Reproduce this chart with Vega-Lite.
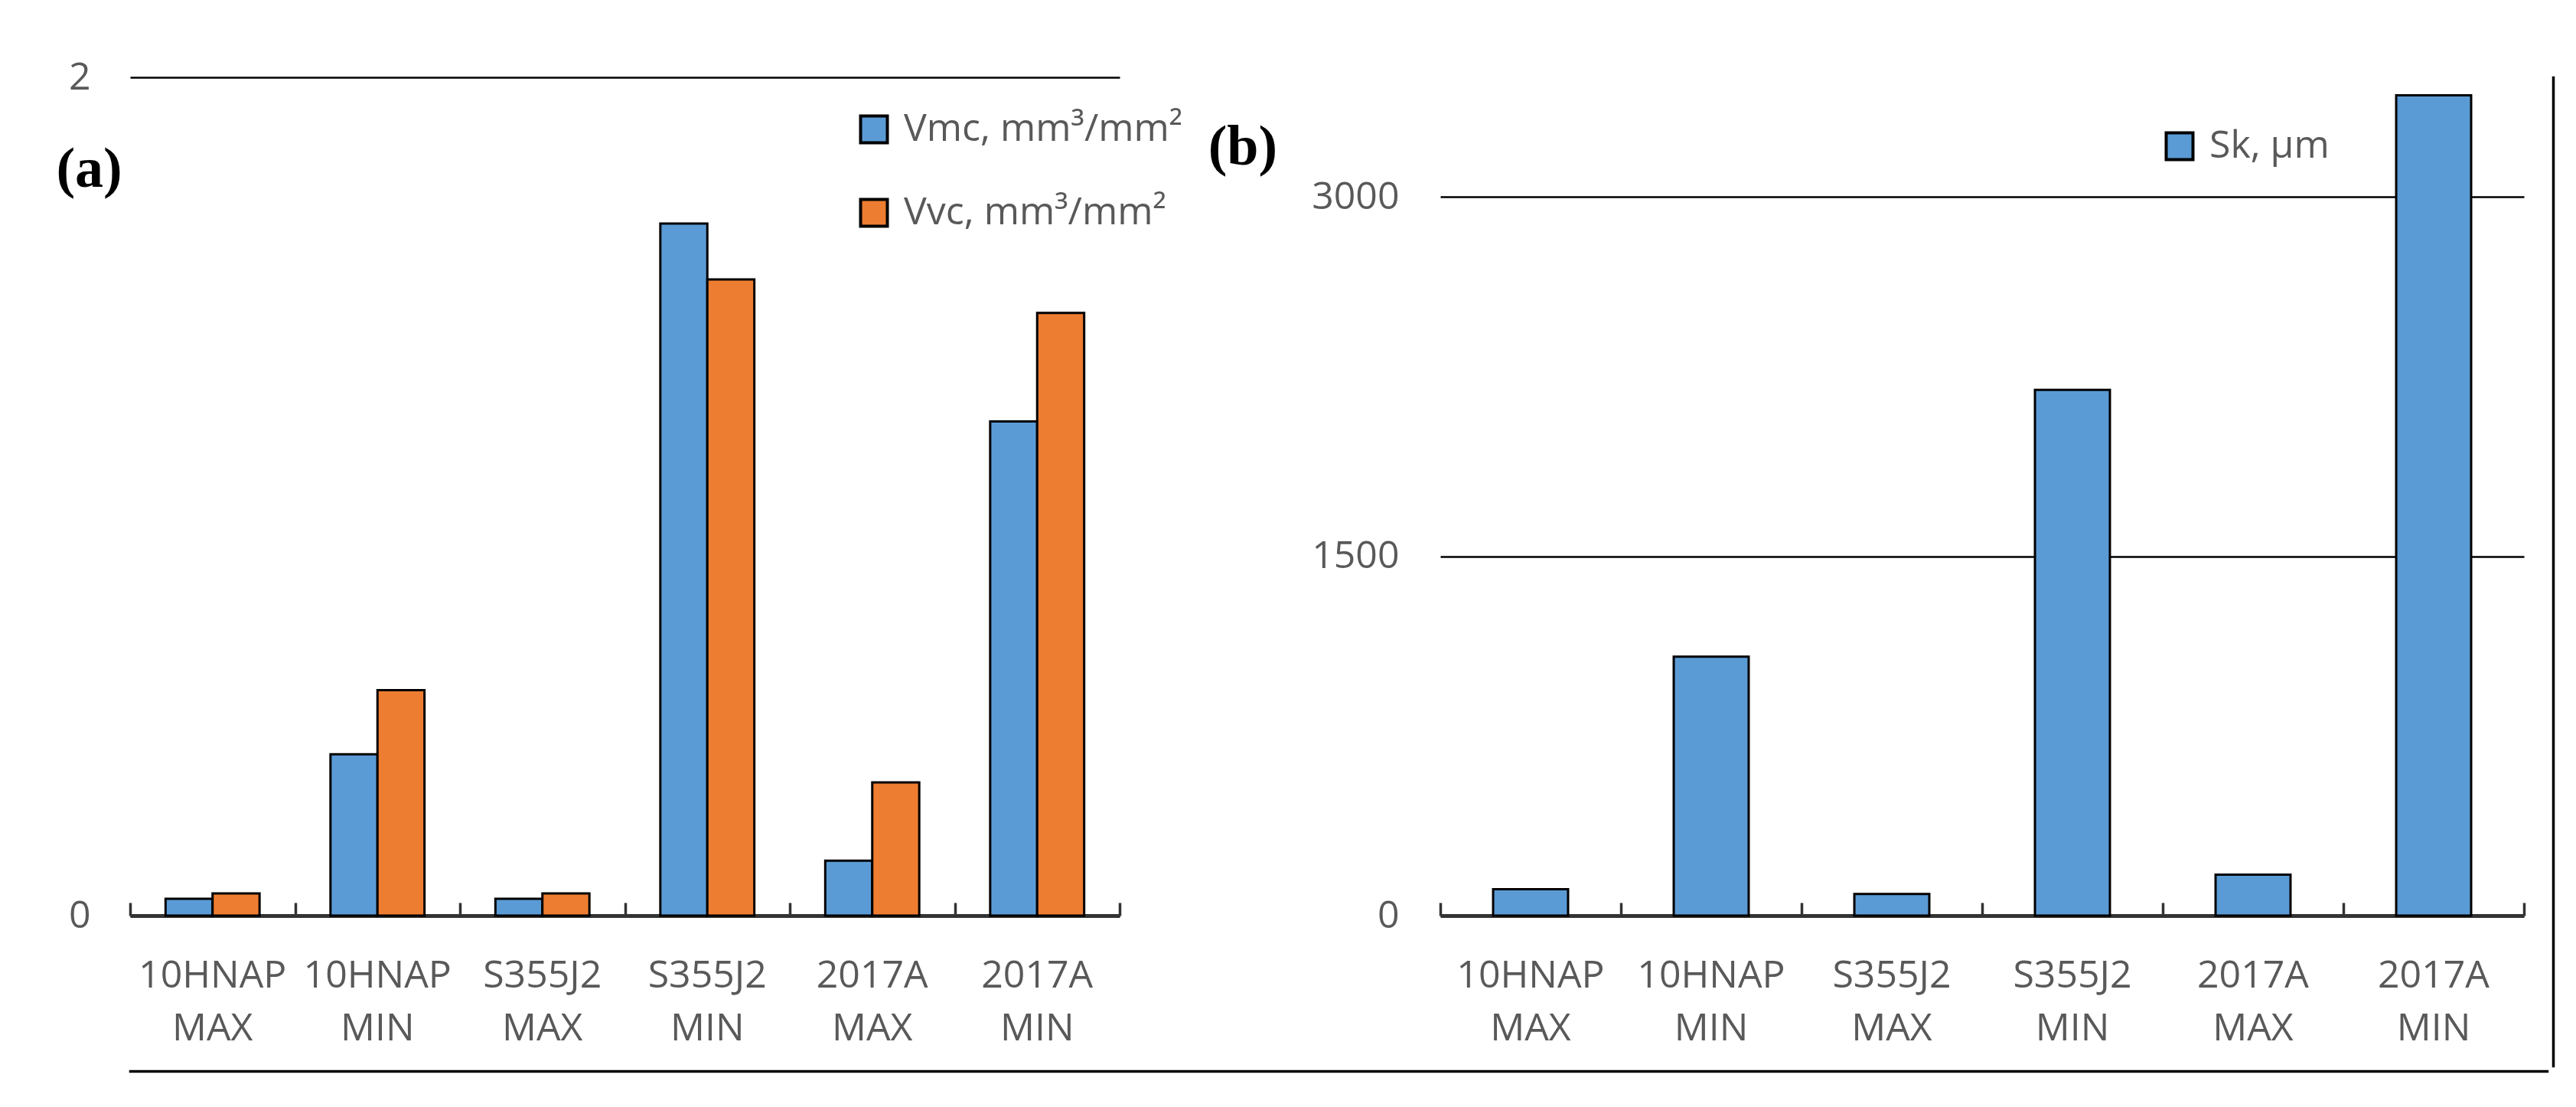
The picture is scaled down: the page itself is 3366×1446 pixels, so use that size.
{
  "$schema": "https://vega.github.io/schema/vega-lite/v6.json",
  "background": "white",
  "padding": {"left": 73, "top": 76, "right": 10, "bottom": 10},
  "config": {
    "view": {"stroke": null},
    "axis": {
      "labelFont": "Open Sans",
      "labelFontSize": 50,
      "labelColor": "#595959",
      "labelLimit": 400,
      "title": null
    },
    "legend": {
      "labelFont": "Open Sans",
      "labelFontSize": 50,
      "labelColor": "#595959",
      "symbolType": "square",
      "symbolSize": 1225,
      "symbolStrokeColor": "black",
      "symbolStrokeWidth": 4,
      "symbolOpacity": 1,
      "rowPadding": 57,
      "labelOffset": 14,
      "padding": 0,
      "title": null,
      "labelLimit": 0
    },
    "title": {
      "font": "Liberation Serif",
      "fontSize": 74,
      "fontWeight": "bold",
      "color": "black",
      "anchor": "start",
      "frame": "bounds",
      "offset": 0,
      "baseline": "alphabetic"
    }
  },
  "spacing": 0,
  "vconcat": [
    {
      "spacing": 32,
      "resolve": {"scale": {"color": "independent"}},
      "hconcat": [
        {
          "width": 1293,
          "height": 1095,
          "title": {"text": "(a)", "dx": -16, "dy": 188},
          "data": {
            "values": [
              {"cat": "10HNAP MAX", "series": "Vmc, mm³/mm²", "value": 0.04},
              {"cat": "10HNAP MAX", "series": "Vvc, mm³/mm²", "value": 0.053},
              {"cat": "10HNAP MIN", "series": "Vmc, mm³/mm²", "value": 0.385},
              {"cat": "10HNAP MIN", "series": "Vvc, mm³/mm²", "value": 0.538},
              {"cat": "S355J2 MAX", "series": "Vmc, mm³/mm²", "value": 0.04},
              {"cat": "S355J2 MAX", "series": "Vvc, mm³/mm²", "value": 0.053},
              {"cat": "S355J2 MIN", "series": "Vmc, mm³/mm²", "value": 1.651},
              {"cat": "S355J2 MIN", "series": "Vvc, mm³/mm²", "value": 1.518},
              {"cat": "2017A MAX", "series": "Vmc, mm³/mm²", "value": 0.131},
              {"cat": "2017A MAX", "series": "Vvc, mm³/mm²", "value": 0.318},
              {"cat": "2017A MIN", "series": "Vmc, mm³/mm²", "value": 1.179},
              {"cat": "2017A MIN", "series": "Vvc, mm³/mm²", "value": 1.438}
            ]
          },
          "resolve": {"axis": {"x": "independent"}},
          "layer": [
            {
              "mark": {"type": "bar", "opacity": 0},
              "encoding": {
                "x": {
                  "field": "cat", "type": "nominal", "sort": null,
                  "scale": {"paddingInner": 0.43, "paddingOuter": 0.215},
                  "axis": {
                    "orient": "bottom",
                    "offset": -17,
                    "domain": false,
                    "labels": false,
                    "ticks": true,
                    "tickSize": 17,
                    "tickWidth": 3.5,
                    "tickColor": "#333333",
                    "tickBand": "center",
                    "tickOffset": -107.75,
                    "grid": false
                  }
                },
                "xOffset": {"field": "series", "sort": null},
                "y": {"field": "value", "type": "quantitative"}
              }
            },
            {
              "mark": {"type": "bar", "opacity": 0},
              "encoding": {
                "x": {
                  "field": "cat", "type": "nominal", "sort": null,
                  "scale": {"paddingInner": 0.43, "paddingOuter": 0.215},
                  "axis": {
                    "orient": "bottom",
                    "offset": -17,
                    "values": ["2017A MIN"],
                    "domain": false,
                    "labels": false,
                    "ticks": true,
                    "tickSize": 17,
                    "tickWidth": 3.5,
                    "tickColor": "#333333",
                    "tickBand": "center",
                    "tickOffset": 107.75,
                    "grid": false
                  }
                },
                "xOffset": {"field": "series", "sort": null},
                "y": {"field": "value", "type": "quantitative"}
              }
            },
            {
              "mark": {"type": "bar", "stroke": "black", "strokeWidth": 3},
              "encoding": {
                "x": {
                  "field": "cat", "type": "nominal", "sort": null,
                  "scale": {"paddingInner": 0.43, "paddingOuter": 0.215},
                  "axis": {
                    "orient": "bottom",
                    "labelExpr": "split(datum.label, ' ')",
                    "labelAngle": 0,
                    "labelLineHeight": 69,
                    "labelPadding": 53,
                    "domainColor": "#333333",
                    "domainWidth": 5,
                    "ticks": false,
                    "grid": false
                  }
                },
                "xOffset": {"field": "series", "sort": null},
                "y": {
                  "field": "value", "type": "quantitative",
                  "scale": {"domain": [0, 2]},
                  "axis": {
                    "values": [0, 1, 2],
                    "format": "d",
                    "domain": false,
                    "ticks": false,
                    "grid": true,
                    "gridColor": "black",
                    "gridWidth": 2.5,
                    "labelPadding": 52
                  }
                },
                "color": {
                  "field": "series", "type": "nominal", "sort": null,
                  "scale": {"range": ["#5B9BD5", "#ED7D31"]},
                  "legend": {"orient": "none", "legendX": 947, "legendY": 43}
                }
              }
            }
          ]
        },
        {
          "width": 1416,
          "height": 1095,
          "title": {"text": "(b)", "dx": -135, "dy": 134},
          "data": {
            "values": [
              {"cat": "10HNAP MAX", "series": "Sk, µm", "value": 110},
              {"cat": "10HNAP MIN", "series": "Sk, µm", "value": 1081},
              {"cat": "S355J2 MAX", "series": "Sk, µm", "value": 90},
              {"cat": "S355J2 MIN", "series": "Sk, µm", "value": 2195},
              {"cat": "2017A MAX", "series": "Sk, µm", "value": 171},
              {"cat": "2017A MIN", "series": "Sk, µm", "value": 3425}
            ]
          },
          "resolve": {"axis": {"x": "independent"}},
          "layer": [
            {
              "mark": {"type": "bar", "opacity": 0},
              "encoding": {
                "x": {
                  "field": "cat", "type": "nominal", "sort": null,
                  "scale": {"paddingInner": 0.585, "paddingOuter": 0.2925},
                  "axis": {
                    "orient": "bottom",
                    "offset": -17,
                    "domain": false,
                    "labels": false,
                    "ticks": true,
                    "tickSize": 17,
                    "tickWidth": 3.5,
                    "tickColor": "#333333",
                    "tickBand": "center",
                    "tickOffset": -118,
                    "grid": false
                  }
                },
                "y": {"field": "value", "type": "quantitative"}
              }
            },
            {
              "mark": {"type": "bar", "opacity": 0},
              "encoding": {
                "x": {
                  "field": "cat", "type": "nominal", "sort": null,
                  "scale": {"paddingInner": 0.585, "paddingOuter": 0.2925},
                  "axis": {
                    "orient": "bottom",
                    "offset": -17,
                    "values": ["2017A MIN"],
                    "domain": false,
                    "labels": false,
                    "ticks": true,
                    "tickSize": 17,
                    "tickWidth": 3.5,
                    "tickColor": "#333333",
                    "tickBand": "center",
                    "tickOffset": 118,
                    "grid": false
                  }
                },
                "y": {"field": "value", "type": "quantitative"}
              }
            },
            {
              "mark": {"type": "bar", "stroke": "black", "strokeWidth": 3},
              "encoding": {
                "x": {
                  "field": "cat", "type": "nominal", "sort": null,
                  "scale": {"paddingInner": 0.585, "paddingOuter": 0.2925},
                  "axis": {
                    "orient": "bottom",
                    "labelExpr": "split(datum.label, ' ')",
                    "labelAngle": 0,
                    "labelLineHeight": 69,
                    "labelPadding": 53,
                    "domainColor": "#333333",
                    "domainWidth": 5,
                    "ticks": false,
                    "grid": false
                  }
                },
                "y": {
                  "field": "value", "type": "quantitative",
                  "scale": {"domain": [0, 3500]},
                  "axis": {
                    "values": [0, 1500, 3000],
                    "format": "d",
                    "domain": false,
                    "ticks": false,
                    "grid": true,
                    "gridColor": "black",
                    "gridWidth": 2.5,
                    "labelPadding": 54
                  }
                },
                "color": {
                  "field": "series", "type": "nominal",
                  "scale": {"range": ["#5B9BD5"]},
                  "legend": {"orient": "none", "legendX": 941, "legendY": 65}
                }
              }
            }
          ]
        },
        {
          "width": 1,
          "height": 1292,
          "view": {"stroke": "black", "strokeWidth": 2.5, "fill": null},
          "data": {"values": [{"k": 0}]},
          "mark": {"type": "point", "opacity": 0},
          "encoding": {}
        }
      ]
    },
    {
      "width": 3159,
      "height": 1,
      "view": {"stroke": "black", "strokeWidth": 2.5, "fill": null},
      "data": {"values": [{"k": 0}]},
      "mark": {"type": "point", "opacity": 0},
      "encoding": {}
    }
  ]
}
